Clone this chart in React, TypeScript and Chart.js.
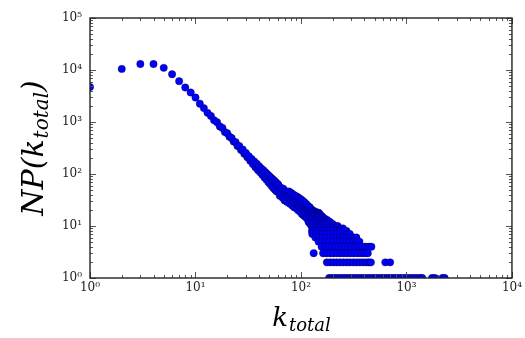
import { useEffect, useRef } from "react";
import { Chart, registerables } from "chart.js";

Chart.register(...registerables);

// ---- data ----
const headK = [1, 2, 3, 4, 5, 6, 7, 8, 9, 10];
const headCount = [4700, 10500, 13000, 13000, 11000, 8300, 6100, 4600, 3700, 2950];

const bandK = [
  11, 12, 13, 14, 15, 16, 17, 18, 19, 20, 21, 22, 23, 24, 25, 26, 27, 28, 29, 30,
  31, 32, 33, 34, 35, 36, 37, 38, 39, 40, 41, 42, 43, 44, 45, 46, 47, 48, 49, 50,
  51, 52, 53, 54, 55, 56, 57, 58, 59, 60,
];
const bandCount = [
  2250, 1850, 1500, 1310, 1080, 990, 820, 770, 640, 610, 520, 495, 420, 410, 345, 345, 290, 295, 245, 255,
  210, 220, 180, 195, 155, 175, 135, 158, 120, 142, 108, 128, 97, 118, 86, 108, 78, 99, 70, 92,
  64, 85, 58, 79, 53, 74, 49, 69, 46, 64,
];

const midK = [
  61, 62, 63, 64, 65, 66, 67, 68, 69, 70, 71, 72, 73, 74, 75, 76, 77, 78, 79, 80,
  81, 82, 83, 84, 85, 86, 87, 88, 89, 90, 91, 92, 93, 94, 95, 96, 97, 98, 99, 100,
  101, 102, 103, 104, 105, 106, 107, 108, 109, 110, 111, 112, 113, 114, 115, 116, 117, 118, 119, 120,
  121, 122, 123, 124, 125, 126, 127, 128, 129, 130,
];
const midCount = [
  62, 45, 38, 55, 42, 49, 35, 52, 40, 31, 47, 37, 44, 29, 41, 34, 46, 27, 38, 32,
  43, 25, 36, 30, 40, 23, 33, 28, 38, 22, 31, 26, 36, 20, 29, 25, 34, 19, 27, 23,
  32, 17, 26, 21, 30, 16, 24, 20, 28, 15, 22, 18, 26, 14, 21, 17, 24, 12, 20, 16,
  23, 11, 19, 15, 21, 10, 18, 14, 20, 9,
];

const tailLevels = [19, 18, 17, 16, 15, 14, 13, 12, 11, 10, 9, 8, 7, 6, 5, 4, 3, 2, 1];
const tailKByLevel = [
  [131, 136],
  [133, 140, 147],
  [135, 142, 150],
  [131, 138, 146, 155],
  [134, 142, 151, 160],
  [132, 139, 148, 157, 167],
  [136, 145, 155, 166, 177],
  [133, 142, 152, 163, 175, 188],
  [131, 139, 149, 160, 172, 185, 199],
  [134, 144, 155, 167, 180, 194, 209, 222],
  [131, 139, 150, 162, 175, 189, 204, 220, 236, 250],
  [127, 136, 147, 159, 172, 186, 201, 217, 234, 252, 270],
  [128, 138, 149, 161, 174, 188, 203, 219, 236, 254, 273, 290],
  [137, 148, 160, 173, 187, 202, 218, 235, 253, 272, 293, 315, 335],
  [147, 159, 172, 186, 201, 217, 234, 252, 271, 292, 315, 338, 358],
  [157, 169, 182, 196, 211, 227, 244, 263, 283, 305, 328, 353, 380, 410, 440, 465],
  [132, 162, 175, 189, 204, 220, 237, 255, 275, 297, 320, 345, 372, 400, 430],
  [176, 189, 203, 218, 234, 251, 270, 290, 312, 335, 360, 387, 416, 440, 460, 630, 700],
  [
    185, 197, 210, 224, 239, 255, 272, 290, 309, 330, 352, 375, 400, 427, 455, 485, 517, 551, 588,
    627, 668, 712, 760, 810, 864, 921, 982, 1047, 1117, 1191, 1270, 1354, 1410, 1750, 1860, 2200, 2300,
  ],
];

const xTickValues = [1, 10, 100, 1000, 10000];
const xTickLabels = ["10⁰", "10¹", "10²", "10³", "10⁴"];
const yTickValues = [1, 10, 100, 1000, 10000, 100000];
const yTickLabels = ["10⁰", "10¹", "10²", "10³", "10⁴", "10⁵"];
const minorMultipliers = [2, 3, 4, 5, 6, 7, 8, 9];

const xTitleMain = "k";
const xTitleSub = "total";
const yTitlePre = "NP(";
const yTitleMid = "k";
const yTitleSub = "total";
const yTitlePost = ")";

function buildPoints() {
  const pts: { x: number; y: number }[] = [];
  headK.forEach((k, i) => pts.push({ x: k, y: headCount[i] }));
  bandK.forEach((k, i) => pts.push({ x: k, y: bandCount[i] }));
  midK.forEach((k, i) => pts.push({ x: k, y: midCount[i] }));
  tailLevels.forEach((lvl, j) => tailKByLevel[j].forEach((k) => pts.push({ x: k, y: lvl })));
  return pts;
}

const framePlugin = {
  id: "frameTicks",
  afterDatasetsDraw(chart: any) {
    const { ctx, chartArea } = chart;
    const { left, right, top, bottom } = chartArea;
    const xs = chart.scales.x;
    const ys = chart.scales.y;
    ctx.save();
    ctx.strokeStyle = "#555";
    ctx.lineWidth = 1;
    const drawX = (v: number, len: number) => {
      const px = Math.round(xs.getPixelForValue(v)) + 0.5;
      ctx.beginPath();
      ctx.moveTo(px, bottom);
      ctx.lineTo(px, bottom - len);
      ctx.moveTo(px, top);
      ctx.lineTo(px, top + len);
      ctx.stroke();
    };
    const drawY = (v: number, len: number) => {
      const py = Math.round(ys.getPixelForValue(v)) + 0.5;
      ctx.beginPath();
      ctx.moveTo(left, py);
      ctx.lineTo(left + len, py);
      ctx.moveTo(right, py);
      ctx.lineTo(right - len, py);
      ctx.stroke();
    };
    xTickValues.forEach((v, i) => {
      drawX(v, 6);
      if (i < xTickValues.length - 1) minorMultipliers.forEach((m) => drawX(v * m, 3));
    });
    yTickValues.forEach((v, i) => {
      drawY(v, 6);
      if (i < yTickValues.length - 1) minorMultipliers.forEach((m) => drawY(v * m, 3));
    });
    ctx.strokeStyle = "#222";
    ctx.lineWidth = 1.4;
    ctx.strokeRect(left, top, right - left, bottom - top);
    ctx.restore();
  },
  afterDraw(chart: any) {
    const { ctx, chartArea } = chart;
    const { left, right, top, bottom } = chartArea;
    ctx.save();
    ctx.fillStyle = "#000";
    ctx.textBaseline = "alphabetic";
    ctx.textAlign = "left";
    // x title
    const bigX = "italic 26px 'DejaVu Serif'";
    const smallX = "italic 18px 'DejaVu Serif'";
    ctx.font = bigX;
    const wk = ctx.measureText(xTitleMain).width;
    ctx.font = smallX;
    const ws = ctx.measureText(xTitleSub).width;
    const cx = (left + right) / 2;
    const x0 = cx - (wk + ws) / 2;
    const base = 326;
    ctx.font = bigX;
    ctx.fillText(xTitleMain, x0, base);
    ctx.font = smallX;
    ctx.fillText(xTitleSub, x0 + wk + 1, base + 5);
    // y title (rotated)
    const bigY = "italic 30px 'DejaVu Serif'";
    const smallY = "italic 20px 'DejaVu Serif'";
    ctx.font = bigY;
    const w1 = ctx.measureText(yTitlePre).width;
    const w2 = ctx.measureText(yTitleMid).width;
    const w4 = ctx.measureText(yTitlePost).width;
    ctx.font = smallY;
    const w3 = ctx.measureText(yTitleSub).width;
    const total = w1 + w2 + w3 + w4 + 1;
    const cy = (top + bottom) / 2;
    ctx.translate(43, cy);
    ctx.rotate(-Math.PI / 2);
    let p = -total / 2;
    ctx.font = bigY;
    ctx.fillText(yTitlePre, p, 0);
    p += w1;
    ctx.fillText(yTitleMid, p, 0);
    p += w2 + 1;
    ctx.font = smallY;
    ctx.fillText(yTitleSub, p, 5);
    p += w3;
    ctx.font = bigY;
    ctx.fillText(yTitlePost, p, 0);
    ctx.restore();
  },
};

export default function App() {
  const ref = useRef<HTMLCanvasElement | null>(null);
  useEffect(() => {
    if (!ref.current) return;
    const chart = new Chart(ref.current, {
      type: "scatter",
      data: {
        datasets: [
          {
            data: buildPoints(),
            backgroundColor: "#0000ff",
            borderColor: "rgba(0,0,0,0.5)",
            borderWidth: 0.7,
            pointRadius: 3.7,
            pointHoverRadius: 3.7,
            pointStyle: "circle",
            clip: 0,
          } as any,
        ],
      },
      options: {
        animation: false,
        responsive: false,
        devicePixelRatio: 1,
        layout: { padding: { top: 18, right: 8, left: 0, bottom: 0 } },
        plugins: { legend: { display: false }, tooltip: { enabled: false } },
        scales: {
          x: {
            type: "logarithmic",
            position: "bottom",
            min: 1,
            max: 10000,
            afterBuildTicks: (s: any) => {
              s.ticks = xTickValues.map((v) => ({ value: v }));
            },
            afterFit: (s: any) => {
              s.height = 60;
            },
            ticks: {
              autoSkip: false,
              maxRotation: 0,
              padding: 3,
              color: "#222",
              font: { family: "'DejaVu Serif'", size: 12 },
              callback: (v: any) => {
                const i = xTickValues.indexOf(Number(v));
                return i >= 0 ? xTickLabels[i] : "";
              },
            },
            grid: { display: false, drawTicks: false },
            border: { display: false },
          },
          y: {
            type: "logarithmic",
            position: "left",
            min: 1,
            max: 100000,
            afterBuildTicks: (s: any) => {
              s.ticks = yTickValues.map((v) => ({ value: v }));
            },
            afterFit: (s: any) => {
              s.width = 90;
            },
            ticks: {
              autoSkip: false,
              padding: 8,
              color: "#222",
              font: { family: "'DejaVu Serif'", size: 12 },
              callback: (v: any) => {
                const i = yTickValues.indexOf(Number(v));
                return i >= 0 ? yTickLabels[i] : "";
              },
            },
            grid: { display: false, drawTicks: false },
            border: { display: false },
          },
        },
      },
      plugins: [framePlugin],
    } as any);
    return () => chart.destroy();
  }, []);
  return (
    <div style={{ position: "fixed", left: 0, top: 0, width: 525, height: 338, background: "#fff" }}>
      <canvas ref={ref} width={525} height={338} style={{ display: "block" }} />
    </div>
  );
}
